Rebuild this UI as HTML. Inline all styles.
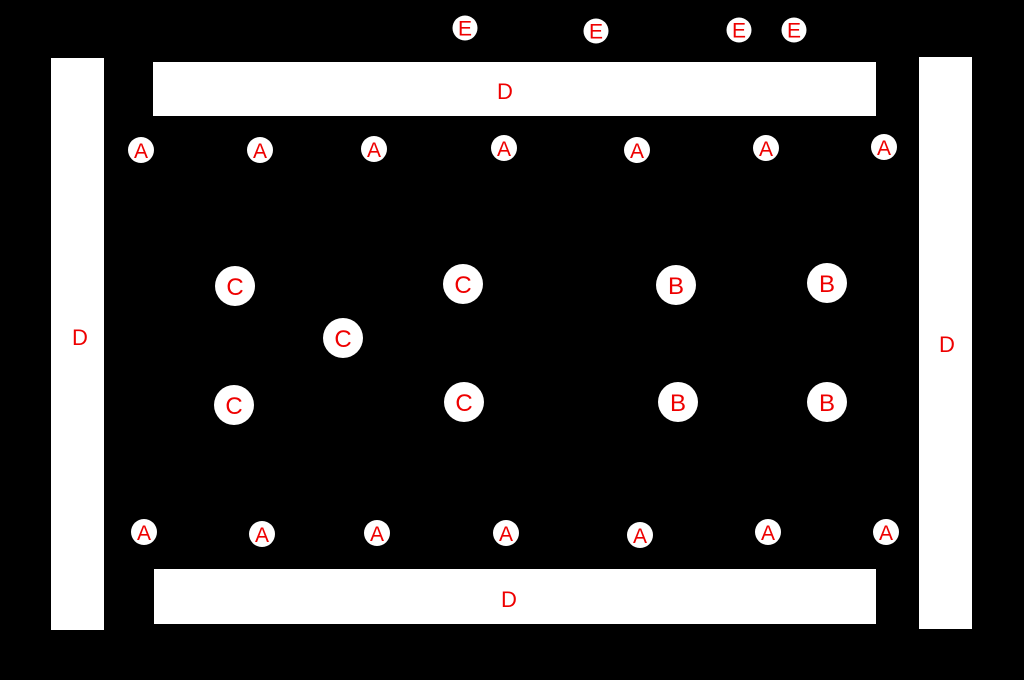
<!DOCTYPE html>
<html><head><style>
body{margin:0;width:1024px;height:680px;background:#000;position:relative;overflow:hidden;font-family:"Liberation Sans",Arial,sans-serif}
.r{position:absolute;background:#fff}
.t{position:absolute;color:#e00;font-size:22px;transform:translate(-50%,-50%)}
.c{position:absolute;background:#fff;border-radius:50%;color:#e00;display:flex;align-items:center;justify-content:center;transform:translate(-50%,-50%);padding-top:3px;box-sizing:border-box}
.s{width:26px;height:26px;font-size:21px}
.m{width:40px;height:40px;font-size:24px}
.e{width:25px;height:25px;font-size:21px}
</style></head><body>
<div class="r" style="left:51px;top:58px;width:53px;height:572px"></div>
<div class="r" style="left:919px;top:57px;width:53px;height:572px"></div>
<div class="r" style="left:153px;top:62px;width:723px;height:54px"></div>
<div class="r" style="left:154px;top:569px;width:722px;height:55px"></div>
<div class="t" style="left:80px;top:338px">D</div>
<div class="t" style="left:947px;top:345px">D</div>
<div class="t" style="left:505px;top:92px">D</div>
<div class="t" style="left:509px;top:600px">D</div>

<div class="c e" style="left:465px;top:28px">E</div>
<div class="c e" style="left:596px;top:31px">E</div>
<div class="c e" style="left:739px;top:30px">E</div>
<div class="c e" style="left:794px;top:30px">E</div>

<div class="c s" style="left:141px;top:150px">A</div>
<div class="c s" style="left:260px;top:150px">A</div>
<div class="c s" style="left:374px;top:149px">A</div>
<div class="c s" style="left:504px;top:148px">A</div>
<div class="c s" style="left:637px;top:150px">A</div>
<div class="c s" style="left:766px;top:148px">A</div>
<div class="c s" style="left:884px;top:147px">A</div>

<div class="c s" style="left:144px;top:532px">A</div>
<div class="c s" style="left:262px;top:534px">A</div>
<div class="c s" style="left:377px;top:533px">A</div>
<div class="c s" style="left:506px;top:533px">A</div>
<div class="c s" style="left:640px;top:535px">A</div>
<div class="c s" style="left:768px;top:532px">A</div>
<div class="c s" style="left:886px;top:532px">A</div>

<div class="c m" style="left:235px;top:286px">C</div>
<div class="c m" style="left:463px;top:284px">C</div>
<div class="c m" style="left:343px;top:338px">C</div>
<div class="c m" style="left:234px;top:405px">C</div>
<div class="c m" style="left:464px;top:402px">C</div>
<div class="c m" style="left:676px;top:285px">B</div>
<div class="c m" style="left:827px;top:283px">B</div>
<div class="c m" style="left:678px;top:402px">B</div>
<div class="c m" style="left:827px;top:402px">B</div>
</body></html>
